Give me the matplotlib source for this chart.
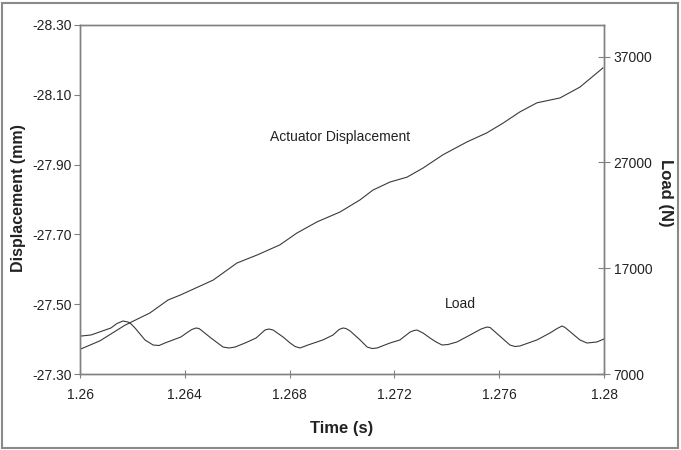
import matplotlib
matplotlib.use("Agg")
import matplotlib.pyplot as plt
from matplotlib.patches import Rectangle

plt.rcParams['font.family'] = ['Liberation Sans', 'DejaVu Sans']
plt.rcParams['axes.unicode_minus'] = False

# Actuator displacement (left axis, mm)
disp_t = [1.26004, 1.26076, 1.26172, 1.26267, 1.26336, 1.26382, 1.26508, 1.26599,
          1.26676, 1.26763, 1.26828, 1.26905, 1.26992, 1.27069, 1.27118, 1.27183,
          1.27248, 1.27309, 1.27385, 1.27477, 1.27553, 1.27615, 1.27679, 1.27744,
          1.27832, 1.27908, 1.27996]
disp_v = [-27.372, -27.395, -27.440, -27.475, -27.512, -27.526, -27.569, -27.618,
          -27.641, -27.670, -27.704, -27.736, -27.764, -27.799, -27.827, -27.850,
          -27.864, -27.890, -27.928, -27.965, -27.991, -28.019, -28.051, -28.077,
          -28.091, -28.122, -28.177]

# Load (right axis, N)
load_t = [1.26004, 1.26042, 1.26118, 1.26141, 1.26164, 1.26183, 1.26195, 1.26210,
          1.26248, 1.26279, 1.26302, 1.26324, 1.26385, 1.26412, 1.26427, 1.26443,
          1.26454, 1.26462, 1.26500, 1.26546, 1.26569, 1.26592, 1.26630, 1.26672,
          1.26706, 1.26721, 1.26737, 1.26775, 1.26802, 1.26821, 1.26840, 1.26870,
          1.26927, 1.26966, 1.26989, 1.27004, 1.27015, 1.27031, 1.27069, 1.27096,
          1.27115, 1.27134, 1.27183, 1.27221, 1.27260, 1.27275, 1.27286, 1.27309,
          1.27336, 1.27359, 1.27382, 1.27405, 1.27439, 1.27489, 1.27531, 1.27553,
          1.27565, 1.27576, 1.27641, 1.27660, 1.27679, 1.27744, 1.27794, 1.27821,
          1.27840, 1.27851, 1.27863, 1.27908, 1.27935, 1.27973, 1.28000]
load_v = [10590, 10690, 11350, 11775, 12010, 11920, 11730, 11350,
          10220, 9740, 9695, 9930, 10500, 10970, 11210, 11350,
          11300, 11160, 10400, 9550, 9460, 9550, 9930, 10400,
          11160, 11255, 11160, 10500, 9930, 9600, 9460, 9740,
          10220, 10690, 11210, 11350, 11300, 11070, 10220, 9550,
          9410, 9460, 9930, 10220, 10970, 11110, 11160, 10880,
          10400, 10030, 9740, 9790, 10030, 10690, 11255, 11440,
          11400, 11160, 9740, 9600, 9650, 10220, 10880, 11300,
          11540, 11400, 11160, 10220, 9930, 10030, 10310]

x_ticks = [1.26, 1.264, 1.268, 1.272, 1.276, 1.28]
x_tick_labels = ["1.26", "1.264", "1.268", "1.272", "1.276", "1.28"]
left_ticks = [-27.30, -27.50, -27.70, -27.90, -28.10, -28.30]
right_ticks = [7000, 17000, 27000, 37000]

W, H = 681, 450
fig = plt.figure(figsize=(W / 100, H / 100), dpi=100)
fig.patch.set_facecolor('white')
fig.patches.append(Rectangle((2 / W, 2 / H), (W - 5) / W, (H - 5) / H,
                             transform=fig.transFigure, fill=False,
                             edgecolor='#8a8a8a', linewidth=1.5))

ax = fig.add_axes([80 / W, (H - 374) / H, (604 - 80) / W, (374 - 25) / H])
ax2 = ax.twinx()

line_col = '#3a3a3a'
ax.plot(disp_t, disp_v, color=line_col, linewidth=0.8, solid_joinstyle='round')
ax2.plot(load_t, load_v, color=line_col, linewidth=0.8, solid_joinstyle='round')

ax.set_xlim(1.26, 1.28)
ax.set_ylim(-27.30, -28.30)
ax2.set_ylim(7000, 40000)

ax.set_xticks(x_ticks)
ax.set_xticklabels(x_tick_labels)
ax.set_yticks(left_ticks)
ax.set_yticklabels(["%.2f" % v for v in left_ticks])
ax2.set_yticks(right_ticks)
ax2.set_yticklabels([str(v) for v in right_ticks])

for a in (ax, ax2):
    for s in a.spines.values():
        s.set_color('#808080')
        s.set_linewidth(1.0)

ax.tick_params(axis='x', direction='inout', length=6, width=0.8, color='#808080',
               labelsize=10, pad=7, labelcolor='#222222')
ax.tick_params(axis='y', direction='out', length=4, width=0.8, color='#808080',
               labelsize=10, pad=2, labelcolor='#222222')
ax2.tick_params(axis='y', direction='inout', length=8, width=0.8, color='#808080',
                labelsize=10, pad=3, labelcolor='#222222')

txt_col = '#222222'
fig.text(342 / W, 1 - 429 / H, "Time (s)", fontsize=12, fontweight='bold',
         ha='center', va='center', color=txt_col)
fig.text(19 / W, 1 - 198 / H, "Displacement (mm)", fontsize=11.5, fontweight='bold',
         ha='center', va='center', rotation=90, color=txt_col)
fig.text(665 / W, 1 - 193 / H, "Load (N)", fontsize=12, fontweight='bold',
         ha='center', va='center', rotation=270, color=txt_col)

ax.text(1.26992, -27.979, "Actuator Displacement", fontsize=10, ha='center',
        va='center', color=txt_col)
ax.text(1.2745, -27.50, "Load", fontsize=10, ha='center', va='center', color=txt_col)

fig.savefig("out.png", dpi=100, facecolor='white')
